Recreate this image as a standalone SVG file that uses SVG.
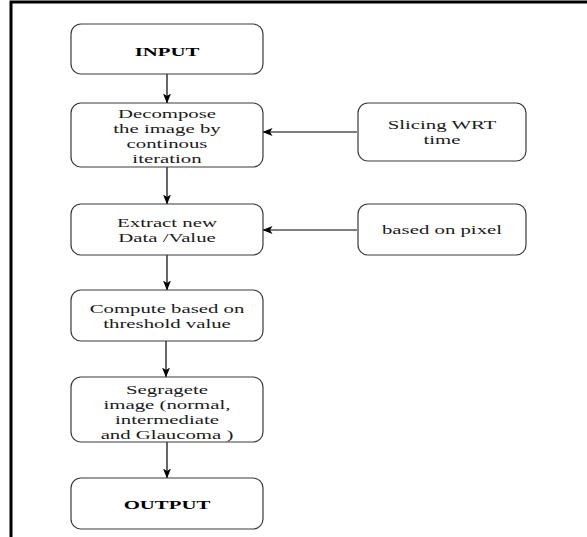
<svg xmlns="http://www.w3.org/2000/svg" width="587" height="537" viewBox="0 0 587 537">
<defs>
<style>
.box{fill:#fff;stroke:#3a3a3a;stroke-width:1.2}
.t{font-family:"Liberation Serif","Times New Roman",serif;font-size:13px;fill:#1a1a1a;text-anchor:middle}
.b{font-weight:bold;fill:#000}
.c{stroke:#000;stroke-width:1.2;fill:none}
</style>
<marker id="ah" viewBox="0 0 10 8" refX="9.5" refY="4" markerWidth="10" markerHeight="8" markerUnits="userSpaceOnUse" orient="auto">
<path d="M0,0 L10,4 L0,8 L2.5,4 z" fill="#000"/>
</marker>
</defs>
<rect x="0" y="0" width="587" height="537" fill="#fff"/>
<path d="M11,537 V2 H587" stroke="#000" stroke-width="3" fill="none"/>

<g id="connectors">
<line class="c" x1="167" y1="74" x2="167" y2="103" marker-end="url(#ah)"/>
<line class="c" x1="167" y1="167" x2="167" y2="204" marker-end="url(#ah)"/>
<line class="c" x1="167" y1="255" x2="167" y2="290" marker-end="url(#ah)"/>
<line class="c" x1="166" y1="341" x2="166" y2="377" marker-end="url(#ah)"/>
<line class="c" x1="167" y1="442" x2="167" y2="478" marker-end="url(#ah)"/>
<line class="c" x1="357" y1="132" x2="263" y2="132" marker-end="url(#ah)"/>
<line class="c" x1="357" y1="230" x2="263" y2="230" marker-end="url(#ah)"/>
</g>

<g id="input">
<rect class="box" x="71" y="24" width="192" height="50" rx="10"/>
<g transform="translate(167,0) scale(1.6,1)"><text class="t b" x="0" y="56">INPUT</text></g>
</g>
<g id="decompose">
<rect class="box" x="71" y="103" width="192" height="64" rx="10"/>
<g transform="translate(167,0) scale(1.6,1)">
<text class="t" x="0" y="118">Decompose</text>
<text class="t" x="0" y="133">the image by</text>
<text class="t" x="0" y="148">continous</text>
<text class="t" x="0" y="163">iteration</text>
</g>
</g>
<g id="slicing">
<rect class="box" x="358" y="103" width="168" height="58" rx="10"/>
<g transform="translate(442,0) scale(1.6,1)">
<text class="t" x="0" y="129">Slicing WRT</text>
<text class="t" x="0" y="144">time</text>
</g>
</g>
<g id="extract">
<rect class="box" x="71" y="204" width="192" height="51" rx="10"/>
<g transform="translate(167,0) scale(1.6,1)">
<text class="t" x="0" y="227">Extract new</text>
<text class="t" x="0" y="242">Data /Value</text>
</g>
</g>
<g id="pixel">
<rect class="box" x="358" y="204" width="168" height="51" rx="10"/>
<g transform="translate(442,0) scale(1.6,1)">
<text class="t" x="0" y="234">based on pixel</text>
</g>
</g>
<g id="compute">
<rect class="box" x="71" y="290" width="192" height="51" rx="10"/>
<g transform="translate(167,0) scale(1.6,1)">
<text class="t" x="0" y="313">Compute based on</text>
<text class="t" x="0" y="328">threshold value</text>
</g>
</g>
<g id="segregate">
<rect class="box" x="71" y="377" width="192" height="65" rx="10"/>
<g transform="translate(167,0) scale(1.6,1)">
<text class="t" x="0" y="394">Segragete</text>
<text class="t" x="0" y="409">image (normal,</text>
<text class="t" x="0" y="424">intermediate</text>
<text class="t" x="0" y="439">and Glaucoma )</text>
</g>
</g>
<g id="output">
<rect class="box" x="71" y="478" width="192" height="51" rx="10"/>
<g transform="translate(167,0) scale(1.6,1)"><text class="t b" x="0" y="509">OUTPUT</text></g>
</g>
</svg>
